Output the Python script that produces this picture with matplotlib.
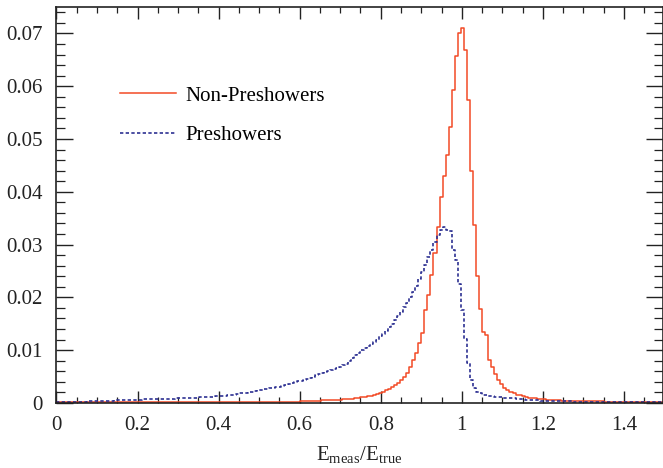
import numpy as np
import matplotlib.pyplot as plt
from matplotlib.ticker import MultipleLocator, FuncFormatter

plt.rcParams["font.family"] = ["Liberation Serif", "DejaVu Serif"]
plt.rcParams["mathtext.fontset"] = "custom"
plt.rcParams["mathtext.rm"] = "Liberation Serif"

# 200 bins of width 0.0075 between 0 and 1.5
bin_edges = np.linspace(0.0, 1.5, 201)

# bin contents in units of 1e-4
non_preshowers = np.array([
    1, 1, 1, 1, 1, 1, 1, 1, 1, 1,
    1, 1, 1, 1, 1, 1, 1, 1, 1, 1,
    1, 1, 1, 1, 1, 1, 1, 1, 1, 1,
    1, 1, 1, 1, 1, 1, 1, 1, 1, 1,
    1, 1, 1, 1, 1, 1, 1, 1, 1, 1,
    2, 2, 2, 2, 2, 2, 2, 2, 2, 2,
    2, 2, 2, 2, 2, 2, 2, 2, 2, 2,
    2, 2, 2, 2, 2, 2, 2, 2, 2, 2,
    3, 3, 3, 3, 4, 4, 4, 5, 5, 5,
    5, 6, 6, 6, 7, 7, 8, 8, 9, 10,
    11, 12, 13, 14, 15, 17, 19, 21, 24, 27,
    31, 34, 38, 43, 50, 56, 68, 81, 94, 113,
    132, 176, 204, 242, 284, 333, 390, 430, 470, 522,
    592, 658, 700, 710, 669, 574, 440, 337, 240, 178,
    134, 128, 82, 68, 55, 44, 35, 29, 24, 21,
    18, 16, 15, 13, 12, 10, 9, 9, 8, 7,
    7, 6, 6, 5, 5, 5, 4, 4, 4, 4,
    3, 3, 3, 3, 3, 3, 3, 3, 3, 3,
    2, 2, 2, 2, 2, 2, 2, 2, 2, 2,
    2, 2, 2, 2, 2, 2, 2, 2, 2, 2,
]) * 1e-4

preshowers = np.array([
    1, 1, 2, 2, 2, 2, 2, 2, 2, 2,
    3, 3, 3, 3, 3, 4, 4, 4, 4, 5,
    5, 5, 6, 6, 6, 6, 6, 6, 7, 7,
    7, 7, 7, 7, 8, 8, 8, 8, 8, 9,
    9, 9, 9, 10, 10, 10, 10, 11, 11, 12,
    12, 12, 13, 13, 14, 14, 15, 15, 16, 17,
    18, 19, 19, 20, 21, 22, 24, 25, 26, 27,
    28, 29, 30, 31, 33, 34, 35, 37, 39, 41,
    42, 44, 46, 48, 50, 52, 54, 56, 58, 60,
    62, 64, 66, 68, 71, 74, 79, 85, 90, 95,
    100, 104, 108, 112, 116, 120, 126, 131, 137, 143,
    150, 157, 164, 172, 181, 190, 200, 210, 221, 234,
    248, 262, 277, 290, 305, 318, 328, 333, 327, 325,
    290, 270, 225, 176, 122, 75, 43, 28, 21, 18,
    16, 15, 14, 13, 12, 11, 11, 10, 10, 9,
    9, 8, 7, 7, 6, 6, 5, 5, 5, 4,
    4, 4, 4, 3, 3, 3, 3, 3, 3, 3,
    2, 2, 2, 2, 2, 2, 2, 2, 2, 2,
    2, 2, 2, 2, 2, 2, 2, 2, 2, 2,
    2, 2, 2, 2, 2, 2, 2, 2, 2, 2,
]) * 1e-4

RED = "#f24a26"
BLUE = "#2e3192"

fig = plt.figure(figsize=(6.63, 4.68), dpi=100)
ax = fig.add_axes([0.0851, 0.139, 0.9142, 0.846])

ax.step(bin_edges, np.append(non_preshowers, non_preshowers[-1]),
        where="post", color=RED, lw=1.1, label="Non-Preshowers")
ax.step(bin_edges, np.append(preshowers, preshowers[-1]),
        where="post", color=BLUE, lw=1.2, linestyle=(0, (2.0, 1.4)),
        label="Preshowers")

ax.set_xlim(0, 1.495)
ax.set_ylim(0, 0.075)

ax.xaxis.set_major_locator(MultipleLocator(0.2))
ax.xaxis.set_minor_locator(MultipleLocator(0.05))
ax.yaxis.set_major_locator(MultipleLocator(0.01))
ax.yaxis.set_minor_locator(MultipleLocator(0.002))
fmt = FuncFormatter(lambda v, pos: f"{v:g}")
ax.xaxis.set_major_formatter(fmt)
ax.yaxis.set_major_formatter(fmt)

ax.tick_params(which="both", direction="in", top=True, right=True,
               colors="#222222", labelcolor="#222222", labelsize=15)
ax.tick_params(axis="x", which="major", length=8.3, width=1.0, pad=9.5)
ax.tick_params(axis="x", which="minor", length=4.2, width=0.9)
ax.tick_params(axis="y", which="major", length=12.5, width=1.0, pad=10)
ax.tick_params(axis="y", which="minor", length=6.2, width=0.9)
for spine in ax.spines.values():
    spine.set_linewidth(1.2)
    spine.set_color("#222222")

ax.set_xlabel(r"E$_{\mathregular{meas}}$/E$_{\mathregular{true}}$",
              fontsize=15, color="#222222", labelpad=7)

ax.legend(loc="upper left", bbox_to_anchor=(0.105, 0.80), frameon=False,
          fontsize=15, handlelength=2.7, handletextpad=0.45,
          labelspacing=0.95, borderpad=0, borderaxespad=0)

fig.savefig("out.png", dpi=100)
